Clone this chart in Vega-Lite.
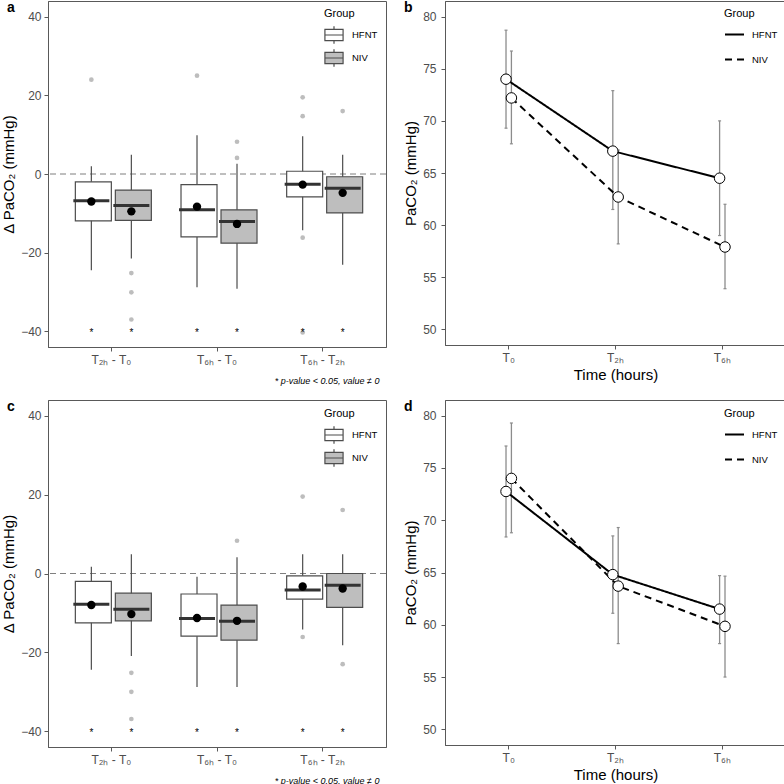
{
  "$schema": "https://vega.github.io/schema/vega-lite/v6.json",
  "padding": {"left": 1, "top": 0, "right": 0, "bottom": 0},
  "background": "white",
  "spacing": 13,
  "resolve": {"scale": {"xOffset": "independent", "fill": "independent", "strokeDash": "independent"}, "legend": {"fill": "independent", "strokeDash": "independent"}},
  "config": {
    "font": "Liberation Sans",
    "view": {"stroke": "#595959", "strokeWidth": 1},
    "tick": {"opacity": 1},
    "axis": {"labelFont": "Liberation Sans", "titleFont": "Liberation Sans", "labelColor": "#4d4d4d", "titleColor": "#000000", "titleFontWeight": "normal", "titleFontSize": 15, "labelFontSize": 12, "tickColor": "#595959", "domainColor": "#595959", "tickSize": 4, "grid": false, "labelPadding": 3},
    "legend": {"labelFont": "Liberation Sans", "titleFont": "Liberation Sans", "labelColor": "#000000", "titleColor": "#000000", "titleFontWeight": "normal", "titleFontSize": 11, "labelFontSize": 9.5},
    "title": {"font": "Liberation Sans", "fontSize": 14, "fontWeight": "bold", "color": "#000000", "anchor": "start", "frame": "group", "offset": -14, "dx": -41, "baseline": "alphabetic"}
  },
  "datasets": {
    "boxA": [
      {"comp": "T₂ₕ - T₀", "group": "HFNT", "lo": -24.5, "q1": -11.9, "med": -6.8, "q3": -2.0, "hi": 2.0, "mean": -7.0},
      {"comp": "T₂ₕ - T₀", "group": "NIV", "lo": -21.5, "q1": -11.8, "med": -8.0, "q3": -4.1, "hi": 4.9, "mean": -9.5},
      {"comp": "T₆ₕ - T₀", "group": "HFNT", "lo": -28.8, "q1": -16.0, "med": -9.1, "q3": -2.7, "hi": 9.85, "mean": -8.3},
      {"comp": "T₆ₕ - T₀", "group": "NIV", "lo": -29.2, "q1": -17.6, "med": -12.05, "q3": -9.1, "hi": 2.6, "mean": -12.7},
      {"comp": "T₆ₕ - T₂ₕ", "group": "HFNT", "lo": -14.3, "q1": -5.8, "med": -2.6, "q3": 0.7, "hi": 9.6, "mean": -2.7},
      {"comp": "T₆ₕ - T₂ₕ", "group": "NIV", "lo": -23.1, "q1": -9.9, "med": -3.6, "q3": -0.7, "hi": 4.9, "mean": -4.8}
    ],
    "outA": [
      {"comp": "T₂ₕ - T₀", "group": "HFNT", "v": 24.0},
      {"comp": "T₂ₕ - T₀", "group": "NIV", "v": -25.2},
      {"comp": "T₂ₕ - T₀", "group": "NIV", "v": -30.1},
      {"comp": "T₂ₕ - T₀", "group": "NIV", "v": -37.0},
      {"comp": "T₆ₕ - T₀", "group": "HFNT", "v": 25.0},
      {"comp": "T₆ₕ - T₀", "group": "NIV", "v": 8.2},
      {"comp": "T₆ₕ - T₀", "group": "NIV", "v": 4.1},
      {"comp": "T₆ₕ - T₂ₕ", "group": "HFNT", "v": 19.5},
      {"comp": "T₆ₕ - T₂ₕ", "group": "HFNT", "v": 14.7},
      {"comp": "T₆ₕ - T₂ₕ", "group": "HFNT", "v": -16.2},
      {"comp": "T₆ₕ - T₂ₕ", "group": "HFNT", "v": -40.3},
      {"comp": "T₆ₕ - T₂ₕ", "group": "NIV", "v": 16.0}
    ],
    "boxC": [
      {"comp": "T₂ₕ - T₀", "group": "HFNT", "lo": -24.4, "q1": -12.5, "med": -7.8, "q3": -2.0, "hi": 1.7, "mean": -8.0},
      {"comp": "T₂ₕ - T₀", "group": "NIV", "lo": -20.9, "q1": -12.0, "med": -9.05, "q3": -5.0, "hi": 4.9, "mean": -10.3},
      {"comp": "T₆ₕ - T₀", "group": "HFNT", "lo": -28.8, "q1": -15.9, "med": -11.4, "q3": -5.2, "hi": -0.8, "mean": -11.3},
      {"comp": "T₆ₕ - T₀", "group": "NIV", "lo": -28.8, "q1": -16.9, "med": -12.1, "q3": -8.0, "hi": 4.1, "mean": -12.0},
      {"comp": "T₆ₕ - T₂ₕ", "group": "HFNT", "lo": -14.2, "q1": -6.5, "med": -4.2, "q3": -0.6, "hi": 4.9, "mean": -3.3},
      {"comp": "T₆ₕ - T₂ₕ", "group": "NIV", "lo": -18.2, "q1": -8.6, "med": -3.0, "q3": 0.0, "hi": 4.9, "mean": -3.8}
    ],
    "outC": [
      {"comp": "T₂ₕ - T₀", "group": "NIV", "v": -25.2},
      {"comp": "T₂ₕ - T₀", "group": "NIV", "v": -30.0},
      {"comp": "T₂ₕ - T₀", "group": "NIV", "v": -36.9},
      {"comp": "T₆ₕ - T₀", "group": "NIV", "v": 8.3},
      {"comp": "T₆ₕ - T₂ₕ", "group": "HFNT", "v": 19.5},
      {"comp": "T₆ₕ - T₂ₕ", "group": "HFNT", "v": -16.1},
      {"comp": "T₆ₕ - T₂ₕ", "group": "NIV", "v": 16.1},
      {"comp": "T₆ₕ - T₂ₕ", "group": "NIV", "v": -23.0}
    ],
    "lineB": [
      {"time": "T₀", "group": "HFNT", "mean": 74.0, "lo": 69.3, "hi": 78.7},
      {"time": "T₀", "group": "NIV", "mean": 72.2, "lo": 67.8, "hi": 76.7},
      {"time": "T₂ₕ", "group": "HFNT", "mean": 67.1, "lo": 61.5, "hi": 72.9},
      {"time": "T₂ₕ", "group": "NIV", "mean": 62.7, "lo": 58.2, "hi": 67.2},
      {"time": "T₆ₕ", "group": "HFNT", "mean": 64.5, "lo": 59.0, "hi": 70.0},
      {"time": "T₆ₕ", "group": "NIV", "mean": 57.9, "lo": 53.9, "hi": 62.0}
    ],
    "lineD": [
      {"time": "T₀", "group": "HFNT", "mean": 72.75, "lo": 68.4, "hi": 77.1},
      {"time": "T₀", "group": "NIV", "mean": 74.0, "lo": 68.8, "hi": 79.3},
      {"time": "T₂ₕ", "group": "HFNT", "mean": 64.8, "lo": 61.1, "hi": 68.5},
      {"time": "T₂ₕ", "group": "NIV", "mean": 63.7, "lo": 58.2, "hi": 69.3},
      {"time": "T₆ₕ", "group": "HFNT", "mean": 61.5, "lo": 58.2, "hi": 64.7},
      {"time": "T₆ₕ", "group": "NIV", "mean": 59.85, "lo": 55.0, "hi": 64.65}
    ]
  },
  "vconcat": [
    {
      "spacing": 16,
      "resolve": {"scale": {"xOffset": "independent", "fill": "independent", "strokeDash": "independent"}, "legend": {"fill": "independent", "strokeDash": "independent"}},
      "hconcat": [
        {
          "title": {"text": "a"},
          "width": 338, "height": 346,
          "data": {"name": "boxA"},
          "encoding": {
            "x": {"field": "comp", "type": "nominal", "sort": ["T₂ₕ - T₀", "T₆ₕ - T₀", "T₆ₕ - T₂ₕ"], "scale": {"paddingInner": 0.243, "paddingOuter": 0.221}, "axis": {"title": "* p-value < 0.05, value ≠ 0", "titleFontStyle": "italic", "titleFontSize": 9, "titleAnchor": "end", "titleAlign": "right", "titleX": 331, "titleY": 33, "titleBaseline": "middle", "labelAngle": 0}},
            "xOffset": {"field": "group", "type": "nominal", "scale": {"domain": ["HFNT", "NIV"], "range": [0, 80], "paddingInner": 0, "paddingOuter": 0}}
          },
          "layer": [
            {"data": {"values": [{"z": 0}]}, "mark": {"type": "rule", "strokeDash": [6, 4], "color": "#7f7f7f", "strokeWidth": 1}, "encoding": {"x": null, "xOffset": null, "y": {"field": "z", "type": "quantitative"}}},
            {"mark": {"type": "rule", "color": "#4d4d4d", "strokeWidth": 1.2}, "encoding": {"y": {"field": "lo", "type": "quantitative", "scale": {"domain": [-44, 44], "nice": false, "zero": false}, "axis": {"title": "Δ PaCO₂ (mmHg)", "values": [-40, -20, 0, 20, 40], "titlePadding": 4}}, "y2": {"field": "hi"}}},
            {"mark": {"type": "bar", "stroke": "#4d4d4d", "strokeWidth": 1.2, "width": {"band": 0.9}}, "encoding": {"y": {"field": "q1", "type": "quantitative"}, "y2": {"field": "q3"}, "fill": {"field": "group", "type": "nominal", "scale": {"domain": ["HFNT", "NIV"], "range": ["#ffffff", "#bebebe"]}, "legend": {"title": "Group", "orient": "none", "legendX": 276, "legendY": 7, "symbolType": "M-1,-0.62H1V0.62H-1Z M-1,0H1 M0,-0.62V-0.95 M0,0.62V0.95", "symbolSize": 330, "symbolStrokeColor": "#4d4d4d", "symbolStrokeWidth": 1.2, "rowPadding": -1, "titlePadding": 6, "labelOffset": 8}}}},
            {"mark": {"type": "tick", "color": "#333333", "thickness": 3, "size": 36, "opacity": 1}, "encoding": {"y": {"field": "med", "type": "quantitative"}}},
            {"mark": {"type": "point", "filled": true, "color": "#000000", "size": 70, "opacity": 1}, "encoding": {"y": {"field": "mean", "type": "quantitative"}}},
            {"data": {"name": "outA"}, "mark": {"type": "point", "filled": true, "color": "#bdbdbd", "size": 22, "opacity": 1}, "encoding": {"y": {"field": "v", "type": "quantitative"}}},
            {"mark": {"type": "text", "text": "*", "fontSize": 10, "color": "#000000", "baseline": "middle", "dy": 2}, "encoding": {"y": {"datum": -40, "type": "quantitative"}}}
          ]
        },
        {
          "title": {"text": "b"},
          "width": 341, "height": 344,
          "data": {"name": "lineB"},
          "encoding": {
            "x": {"field": "time", "type": "nominal", "sort": ["T₀", "T₂ₕ", "T₆ₕ"], "scale": {"paddingInner": 0.899, "paddingOuter": 0.546}, "axis": {"title": "Time (hours)", "labelAngle": 0, "titlePadding": 4}},
            "xOffset": {"field": "group", "type": "nominal", "scale": {"domain": ["HFNT", "NIV"], "range": [0, 10.8], "paddingInner": 0, "paddingOuter": 0}}
          },
          "layer": [
            {"mark": {"type": "rule", "color": "#8c8c8c", "strokeWidth": 1.3}, "encoding": {"y": {"field": "lo", "type": "quantitative", "scale": {"domain": [48.5, 81.5], "nice": false, "zero": false}, "axis": {"title": "PaCO₂ (mmHg)", "values": [50, 55, 60, 65, 70, 75, 80], "titlePadding": 4, "labelPadding": 5}}, "y2": {"field": "hi"}}},
            {"mark": {"type": "tick", "color": "#8c8c8c", "thickness": 1.2, "size": 3, "opacity": 1}, "encoding": {"y": {"field": "lo", "type": "quantitative"}}},
            {"mark": {"type": "tick", "color": "#8c8c8c", "thickness": 1.2, "size": 3, "opacity": 1}, "encoding": {"y": {"field": "hi", "type": "quantitative"}}},
            {"mark": {"type": "line", "color": "#000000", "strokeWidth": 2}, "encoding": {"y": {"field": "mean", "type": "quantitative"}, "strokeDash": {"field": "group", "type": "nominal", "scale": {"domain": ["HFNT", "NIV"], "range": [[1, 0], [7, 5]]}, "legend": {"title": "Group", "orient": "none", "legendX": 279, "legendY": 7, "symbolType": "stroke", "symbolSize": 361, "symbolStrokeWidth": 2, "symbolStrokeColor": "#000000", "rowPadding": 10, "titlePadding": 5, "labelOffset": 7}}}},
            {"mark": {"type": "point", "filled": true, "fill": "#ffffff", "stroke": "#000000", "strokeWidth": 1, "size": 110, "opacity": 1}, "encoding": {"y": {"field": "mean", "type": "quantitative"}}}
          ]
        }
      ]
    },
    {
      "spacing": 16,
      "resolve": {"scale": {"xOffset": "independent", "fill": "independent", "strokeDash": "independent"}, "legend": {"fill": "independent", "strokeDash": "independent"}},
      "hconcat": [
        {
          "title": {"text": "c"},
          "width": 338, "height": 347,
          "data": {"name": "boxC"},
          "encoding": {
            "x": {"field": "comp", "type": "nominal", "sort": ["T₂ₕ - T₀", "T₆ₕ - T₀", "T₆ₕ - T₂ₕ"], "scale": {"paddingInner": 0.243, "paddingOuter": 0.221}, "axis": {"title": "* p-value < 0.05, value ≠ 0", "titleFontStyle": "italic", "titleFontSize": 9, "titleAnchor": "end", "titleAlign": "right", "titleX": 331, "titleY": 33, "titleBaseline": "middle", "labelAngle": 0}},
            "xOffset": {"field": "group", "type": "nominal", "scale": {"domain": ["HFNT", "NIV"], "range": [0, 80], "paddingInner": 0, "paddingOuter": 0}}
          },
          "layer": [
            {"data": {"values": [{"z": 0}]}, "mark": {"type": "rule", "strokeDash": [6, 4], "color": "#7f7f7f", "strokeWidth": 1}, "encoding": {"x": null, "xOffset": null, "y": {"field": "z", "type": "quantitative"}}},
            {"mark": {"type": "rule", "color": "#4d4d4d", "strokeWidth": 1.2}, "encoding": {"y": {"field": "lo", "type": "quantitative", "scale": {"domain": [-44, 44], "nice": false, "zero": false}, "axis": {"title": "Δ PaCO₂ (mmHg)", "values": [-40, -20, 0, 20, 40], "titlePadding": 4}}, "y2": {"field": "hi"}}},
            {"mark": {"type": "bar", "stroke": "#4d4d4d", "strokeWidth": 1.2, "width": {"band": 0.9}}, "encoding": {"y": {"field": "q1", "type": "quantitative"}, "y2": {"field": "q3"}, "fill": {"field": "group", "type": "nominal", "scale": {"domain": ["HFNT", "NIV"], "range": ["#ffffff", "#bebebe"]}, "legend": {"title": "Group", "orient": "none", "legendX": 276, "legendY": 8, "symbolType": "M-1,-0.62H1V0.62H-1Z M-1,0H1 M0,-0.62V-0.95 M0,0.62V0.95", "symbolSize": 330, "symbolStrokeColor": "#4d4d4d", "symbolStrokeWidth": 1.2, "rowPadding": -1, "titlePadding": 6, "labelOffset": 8}}}},
            {"mark": {"type": "tick", "color": "#333333", "thickness": 3, "size": 36, "opacity": 1}, "encoding": {"y": {"field": "med", "type": "quantitative"}}},
            {"mark": {"type": "point", "filled": true, "color": "#000000", "size": 70, "opacity": 1}, "encoding": {"y": {"field": "mean", "type": "quantitative"}}},
            {"data": {"name": "outC"}, "mark": {"type": "point", "filled": true, "color": "#bdbdbd", "size": 22, "opacity": 1}, "encoding": {"y": {"field": "v", "type": "quantitative"}}},
            {"mark": {"type": "text", "text": "*", "fontSize": 10, "color": "#000000", "baseline": "middle", "dy": 2}, "encoding": {"y": {"datum": -40, "type": "quantitative"}}}
          ]
        },
        {
          "title": {"text": "d"},
          "width": 341, "height": 345,
          "data": {"name": "lineD"},
          "encoding": {
            "x": {"field": "time", "type": "nominal", "sort": ["T₀", "T₂ₕ", "T₆ₕ"], "scale": {"paddingInner": 0.899, "paddingOuter": 0.546}, "axis": {"title": "Time (hours)", "labelAngle": 0, "titlePadding": 4}},
            "xOffset": {"field": "group", "type": "nominal", "scale": {"domain": ["HFNT", "NIV"], "range": [0, 10.8], "paddingInner": 0, "paddingOuter": 0}}
          },
          "layer": [
            {"mark": {"type": "rule", "color": "#8c8c8c", "strokeWidth": 1.3}, "encoding": {"y": {"field": "lo", "type": "quantitative", "scale": {"domain": [48.5, 81.5], "nice": false, "zero": false}, "axis": {"title": "PaCO₂ (mmHg)", "values": [50, 55, 60, 65, 70, 75, 80], "titlePadding": 4, "labelPadding": 5}}, "y2": {"field": "hi"}}},
            {"mark": {"type": "tick", "color": "#8c8c8c", "thickness": 1.2, "size": 3, "opacity": 1}, "encoding": {"y": {"field": "lo", "type": "quantitative"}}},
            {"mark": {"type": "tick", "color": "#8c8c8c", "thickness": 1.2, "size": 3, "opacity": 1}, "encoding": {"y": {"field": "hi", "type": "quantitative"}}},
            {"mark": {"type": "line", "color": "#000000", "strokeWidth": 2}, "encoding": {"y": {"field": "mean", "type": "quantitative"}, "strokeDash": {"field": "group", "type": "nominal", "scale": {"domain": ["HFNT", "NIV"], "range": [[1, 0], [7, 5]]}, "legend": {"title": "Group", "orient": "none", "legendX": 279, "legendY": 8, "symbolType": "stroke", "symbolSize": 361, "symbolStrokeWidth": 2, "symbolStrokeColor": "#000000", "rowPadding": 10, "titlePadding": 5, "labelOffset": 7}}}},
            {"mark": {"type": "point", "filled": true, "fill": "#ffffff", "stroke": "#000000", "strokeWidth": 1, "size": 110, "opacity": 1}, "encoding": {"y": {"field": "mean", "type": "quantitative"}}}
          ]
        }
      ]
    }
  ]
}
